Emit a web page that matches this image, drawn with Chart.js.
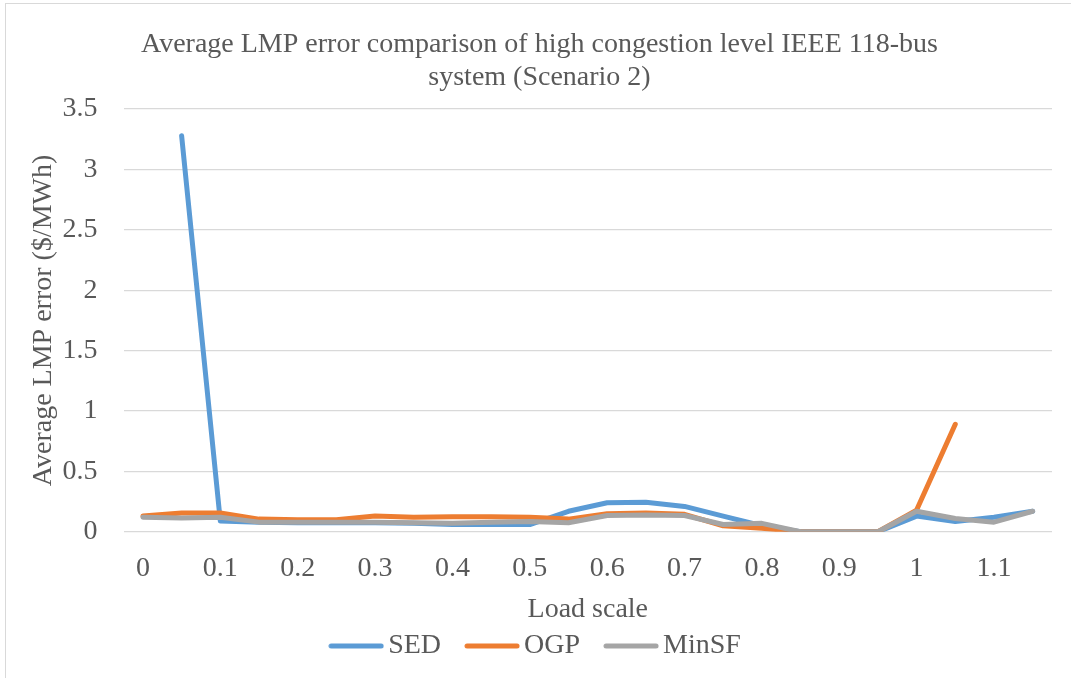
<!DOCTYPE html>
<html>
<head>
<meta charset="utf-8">
<script src="https://cdn.jsdelivr.net/npm/chart.js@4/dist/chart.umd.min.js"></script>
<style>
  html, body { margin: 0; padding: 0; background: #fff; }
  #wrap { position: relative; box-sizing: border-box; border-left: 1px solid #d9d9d9; border-top: 1px solid #d9d9d9; margin-left: 5px; margin-top: 3px; width: 1066px; height: 675px; }
</style>
</head>
<body>
<div id="wrap"><canvas id="chart"></canvas></div>
<script>
// load scale categories (every 0.05)
var loadScale = ["0","0.05","0.1","0.15","0.2","0.25","0.3","0.35","0.4","0.45","0.5","0.55",
                 "0.6","0.65","0.7","0.75","0.8","0.85","0.9","0.95","1","1.05","1.1","1.15"];
// tick labels shown on the x axis
var xTickLabels = ["0","0.1","0.2","0.3","0.4","0.5","0.6","0.7","0.8","0.9","1","1.1"];

// average LMP error ($/MWh)
var sed   = [null, 3.28, 0.09, 0.08, 0.075, 0.075, 0.075, 0.07, 0.06, 0.06, 0.06, 0.17,
             0.24, 0.245, 0.21, 0.13, 0.05, 0, 0, 0, 0.13, 0.085, 0.12, 0.17];
var ogp   = [0.13, 0.155, 0.155, 0.105, 0.1, 0.1, 0.13, 0.12, 0.125, 0.125, 0.12, 0.105,
             0.15, 0.155, 0.145, 0.05, 0.03, 0, 0, 0, 0.18, 0.89, null, null];
var minsf = [0.12, 0.115, 0.12, 0.08, 0.08, 0.08, 0.08, 0.075, 0.07, 0.08, 0.085, 0.075,
             0.135, 0.14, 0.135, 0.06, 0.07, 0, 0, 0, 0.17, 0.11, 0.08, 0.17];

var fontFam = "'Liberation Serif', 'Times New Roman', serif";
var textCol = "#595959";

// legend swatch: a short thick line with round ends
function swatch(color) {
    var c = document.createElement('canvas');
    c.width = 56; c.height = 6;
    var g = c.getContext('2d');
    g.strokeStyle = color;
    g.lineWidth = 5;
    g.lineCap = 'round';
    g.beginPath();
    g.moveTo(3, 3);
    g.lineTo(53, 3);
    g.stroke();
    return c;
}

var ctx = document.getElementById('chart').getContext('2d');
var chart = new Chart(ctx, {
    type: 'line',
    data: {
        labels: loadScale,
        datasets: [
            { label: "SED", data: sed, borderColor: '#5B9BD5', backgroundColor: '#5B9BD5', pointStyle: swatch('#5B9BD5'), order: 3 },
            { label: "OGP", data: ogp, borderColor: '#ED7D31', backgroundColor: '#ED7D31', pointStyle: swatch('#ED7D31'), order: 2 },
            { label: "MinSF", data: minsf, borderColor: '#A5A5A5', backgroundColor: '#A5A5A5', pointStyle: swatch('#A5A5A5'), order: 1 }
        ]
    },
    options: {
        responsive: true,
        maintainAspectRatio: false,
        animation: false,
        layout: { padding: { left: 21, right: 19, top: 24, bottom: 8 } },
        elements: {
            line: { borderWidth: 5, tension: 0, borderCapStyle: 'round', borderJoinStyle: 'round' },
            point: { radius: 0 }
        },
        plugins: {
            title: {
                display: true,
                text: ["Average LMP error comparison of high congestion level IEEE 118-bus", "system (Scenario 2)"],
                color: textCol,
                font: { family: fontFam, size: 28, weight: 'normal', lineHeight: 1.18 },
                padding: { top: 0, bottom: 15 }
            },
            legend: {
                position: 'bottom',
                labels: {
                    color: textCol,
                    font: { family: fontFam, size: 28 },
                    usePointStyle: true,
                    pointStyleWidth: 36,
                    padding: 5,
                    generateLabels: function (chart) {
                        var items = Chart.defaults.plugins.legend.labels.generateLabels(chart);
                        items.sort(function (a, b) { return a.datasetIndex - b.datasetIndex; });
                        items.forEach(function (it, i) {
                            if (i < items.length - 1) it.text += "    ";
                        });
                        return items;
                    }
                }
            },
            tooltip: { enabled: false }
        },
        scales: {
            x: {
                offset: true,
                grid: { display: false },
                border: { display: false },
                title: {
                    display: true, text: "Load scale", color: textCol,
                    font: { family: fontFam, size: 28 }, padding: { top: -5, bottom: 1 }
                },
                ticks: {
                    autoSkip: false, maxRotation: 0, color: textCol,
                    font: { family: fontFam, size: 28 }, padding: 12,
                    callback: function (val, idx) {
                        return idx % 2 === 0 ? xTickLabels[idx / 2] : "";
                    }
                }
            },
            y: {
                min: 0, max: 3.5,
                border: { display: false },
                grid: { color: '#d9d9d9', lineWidth: 1.3, drawTicks: false },
                title: {
                    display: true, text: "Average LMP error ($/MWh)", color: textCol,
                    font: { family: fontFam, size: 28 }, padding: { top: 0, bottom: -24 }
                },
                ticks: {
                    stepSize: 0.5, color: textCol, padding: 26,
                    font: { family: fontFam, size: 28 },
                    callback: function (val) { return String(Number(val.toFixed(2))); }
                }
            }
        }
    }
});
</script>
</body>
</html>
